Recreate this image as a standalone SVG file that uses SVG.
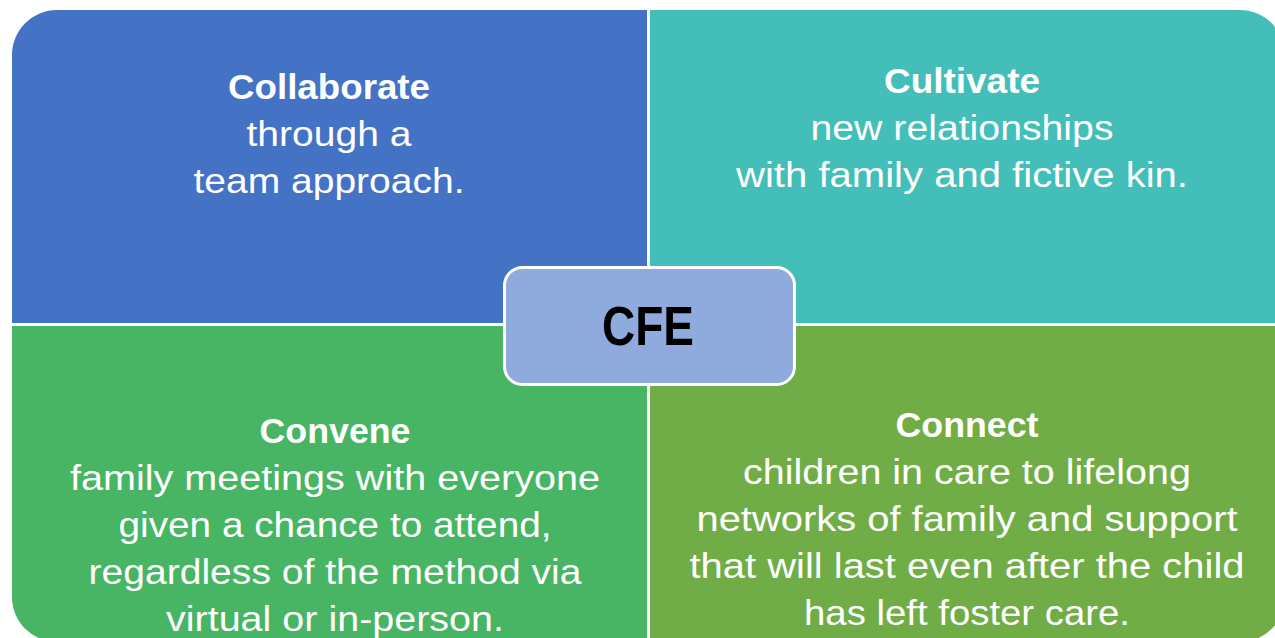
<svg xmlns="http://www.w3.org/2000/svg" width="1275" height="638" viewBox="0 0 1275 638">
<style>
.t{font-family:"Liberation Sans",Arial,sans-serif;font-size:35px;fill:#ffffff;text-anchor:middle}
.b{font-weight:bold}
.c{font-family:"Liberation Sans",Arial,sans-serif;font-size:55px;font-weight:bold;fill:#000000;text-anchor:middle}
</style>
<rect width="1275" height="638" fill="#ffffff"/>
<g id="collaborate">
<path d="M12,55 A45,45 0 0 1 57,10 L647,10 L647,323 L12,323 Z" fill="#4472C4"/>
<text class="t b" x="329" y="99" textLength="202" lengthAdjust="spacingAndGlyphs">Collaborate</text>
<text class="t" x="329" y="146" textLength="165" lengthAdjust="spacingAndGlyphs">through a</text>
<text class="t" x="329" y="193" textLength="271" lengthAdjust="spacingAndGlyphs">team approach.</text>
</g>
<g id="cultivate">
<path d="M650,10 L1240,10 A45,45 0 0 1 1285,55 L1285,323 L650,323 Z" fill="#44BEB8"/>
<text class="t b" x="962" y="93" textLength="156" lengthAdjust="spacingAndGlyphs">Cultivate</text>
<text class="t" x="962" y="140" textLength="303" lengthAdjust="spacingAndGlyphs">new relationships</text>
<text class="t" x="962" y="187" textLength="452" lengthAdjust="spacingAndGlyphs">with family and fictive kin.</text>
</g>
<g id="convene">
<path d="M12,326 L647,326 L647,642 L57,642 A45,45 0 0 1 12,597 Z" fill="#47B563"/>
<text class="t b" x="335" y="443" textLength="151" lengthAdjust="spacingAndGlyphs">Convene</text>
<text class="t" x="335" y="490" textLength="530" lengthAdjust="spacingAndGlyphs">family meetings with everyone</text>
<text class="t" x="335" y="537" textLength="433" lengthAdjust="spacingAndGlyphs">given a chance to attend,</text>
<text class="t" x="335" y="584" textLength="493" lengthAdjust="spacingAndGlyphs">regardless of the method via</text>
<text class="t" x="335" y="631" textLength="338" lengthAdjust="spacingAndGlyphs">virtual or in-person.</text>
</g>
<g id="connect">
<path d="M650,326 L1285,326 L1285,597 A45,45 0 0 1 1240,642 L650,642 Z" fill="#70AD47"/>
<text class="t b" x="967" y="437" textLength="143" lengthAdjust="spacingAndGlyphs">Connect</text>
<text class="t" x="967" y="484" textLength="448" lengthAdjust="spacingAndGlyphs">children in care to lifelong</text>
<text class="t" x="967" y="531" textLength="541" lengthAdjust="spacingAndGlyphs">networks of family and support</text>
<text class="t" x="967" y="578" textLength="555" lengthAdjust="spacingAndGlyphs">that will last even after the child</text>
<text class="t" x="967" y="625" textLength="326" lengthAdjust="spacingAndGlyphs">has left foster care.</text>
</g>
<g id="connectors"></g>
<g id="cfe">
<rect x="504.5" y="267.5" width="290" height="117" rx="18" fill="#8FAADC" stroke="#ffffff" stroke-width="3"/>
<text class="c" x="648" y="345" textLength="92" lengthAdjust="spacingAndGlyphs">CFE</text>
</g>
</svg>
